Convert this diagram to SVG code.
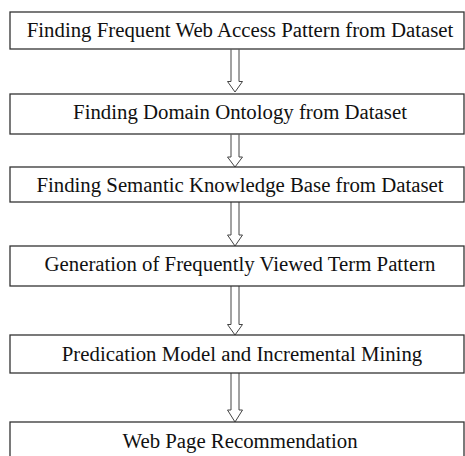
<svg xmlns="http://www.w3.org/2000/svg" width="465" height="456" viewBox="0 0 465 456">
<style>
.box{fill:#fff;stroke:#333;stroke-width:1.3}
.lbl{font-family:"Liberation Serif","Times New Roman",serif;font-size:20.8px;fill:#111;text-anchor:middle}
.arr{fill:#fff;stroke:#444;stroke-width:1}
</style>
<rect width="465" height="456" fill="#fff"/>
<g id="connectors">
<path class="arr" d="M231,49.5 V81.5 H227.5 L235,92 L242.5,81.5 H239 V49.5"/>
<path class="arr" d="M231,134.5 V157 H227.5 L235,167 L242.5,157 H239 V134.5"/>
<path class="arr" d="M231,202 V235 H227.5 L235,246 L242.5,235 H239 V202"/>
<path class="arr" d="M231,286 V324.5 H227.5 L235,335 L242.5,324.5 H239 V286"/>
<path class="arr" d="M231,373 V410 H227.5 L235,422 L242.5,410 H239 V373"/>
</g>
<g id="n1"><rect class="box" x="10" y="12" width="454" height="37"/><text class="lbl" x="240" y="36.5">Finding Frequent Web Access Pattern from Dataset</text></g>
<g id="n2"><rect class="box" x="10" y="94" width="454" height="40"/><text class="lbl" x="240" y="119">Finding Domain Ontology from Dataset</text></g>
<g id="n3"><rect class="box" x="10" y="167" width="454" height="35"/><text class="lbl" x="240" y="191.5">Finding Semantic Knowledge Base from Dataset</text></g>
<g id="n4"><rect class="box" x="10" y="246" width="454" height="40"/><text class="lbl" x="240" y="270.5">Generation of Frequently Viewed Term Pattern</text></g>
<g id="n5"><rect class="box" x="10" y="335" width="454" height="38"/><text class="lbl" x="242" y="360.5">Predication Model and Incremental Mining</text></g>
<g id="n6"><rect class="box" x="10" y="422" width="454" height="40"/><text class="lbl" x="240" y="448">Web Page Recommendation</text></g>
</svg>
